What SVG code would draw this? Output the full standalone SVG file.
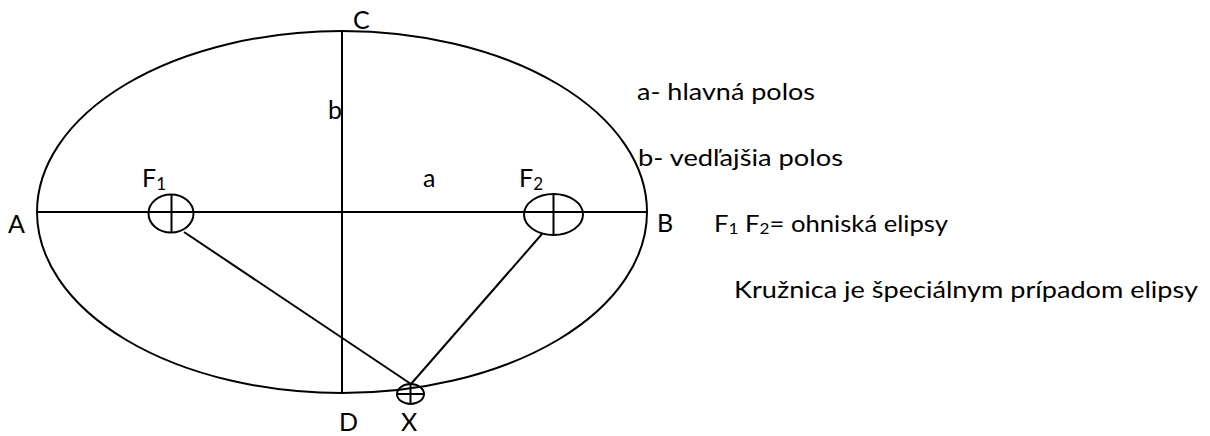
<svg xmlns="http://www.w3.org/2000/svg" width="1210" height="436" viewBox="0 0 1210 436">
  <style>
    .ln { stroke: #000; stroke-width: 2; fill: none; }
    .lbl { font-family: Lato, "Liberation Sans", sans-serif; font-size: 25px; fill: #000; }
    .txt { font-family: Lato, "Liberation Sans", sans-serif; font-size: 24px; fill: #000; }
    .sub { font-size: 17px; }
    .sub2 { font-size: 16px; }
  </style>
  <rect width="1210" height="436" fill="#fff"/>

  <g id="ellipse">
    <ellipse class="ln" cx="342" cy="212" rx="305" ry="181"/>
  </g>
  <g id="axes">
    <line class="ln" x1="37" y1="212" x2="647" y2="212"/>
    <line class="ln" x1="342" y1="31" x2="342" y2="393"/>
  </g>

  <g id="focus-F1">
    <ellipse class="ln" cx="171" cy="213.5" rx="22.5" ry="19"/>
    <line class="ln" x1="171.5" y1="194.5" x2="171.5" y2="232.5"/>
  </g>
  <g id="focus-F2">
    <ellipse class="ln" cx="553.5" cy="214.5" rx="29.5" ry="20.5"/>
    <line class="ln" x1="553.5" y1="194" x2="553.5" y2="235"/>
  </g>
  <g id="point-X">
    <ellipse class="ln" cx="410.5" cy="394" rx="13.5" ry="10"/>
    <line class="ln" x1="410.5" y1="384" x2="410.5" y2="404"/>
    <line class="ln" x1="397" y1="394" x2="424" y2="394"/>
  </g>

  <g id="connectors">
    <line class="ln" x1="184" y1="232" x2="411" y2="384"/>
    <line class="ln" x1="542" y1="234" x2="411" y2="384"/>
  </g>

  <g id="labels">
    <text class="lbl" x="353" y="29">C</text>
    <text class="lbl" x="328" y="119">b</text>
    <text class="lbl" x="142" y="187">F<tspan class="sub" dy="3">1</tspan></text>
    <text class="lbl" x="423" y="187">a</text>
    <text class="lbl" x="519" y="187">F<tspan class="sub" dy="3">2</tspan></text>
    <text class="lbl" x="8" y="233">A</text>
    <text class="lbl" x="657" y="232">B</text>
    <text class="lbl" x="339" y="431">D</text>
    <text class="lbl" x="401" y="431">X</text>
  </g>

  <g id="legend">
    <text class="txt" x="637" y="100" textLength="178" lengthAdjust="spacingAndGlyphs">a- hlavná polos</text>
    <text class="txt" x="638" y="166" textLength="205" lengthAdjust="spacingAndGlyphs">b- vedľajšia polos</text>
    <text class="txt" x="714" y="232" textLength="234" lengthAdjust="spacingAndGlyphs">F<tspan class="sub2" dy="2">1</tspan><tspan dy="-2"> F</tspan><tspan class="sub2" dy="2">2</tspan><tspan dy="-2">= ohniská elipsy</tspan></text>
    <text class="txt" x="734" y="298" textLength="464" lengthAdjust="spacingAndGlyphs">Kružnica je špeciálnym prípadom elipsy</text>
  </g>
</svg>
